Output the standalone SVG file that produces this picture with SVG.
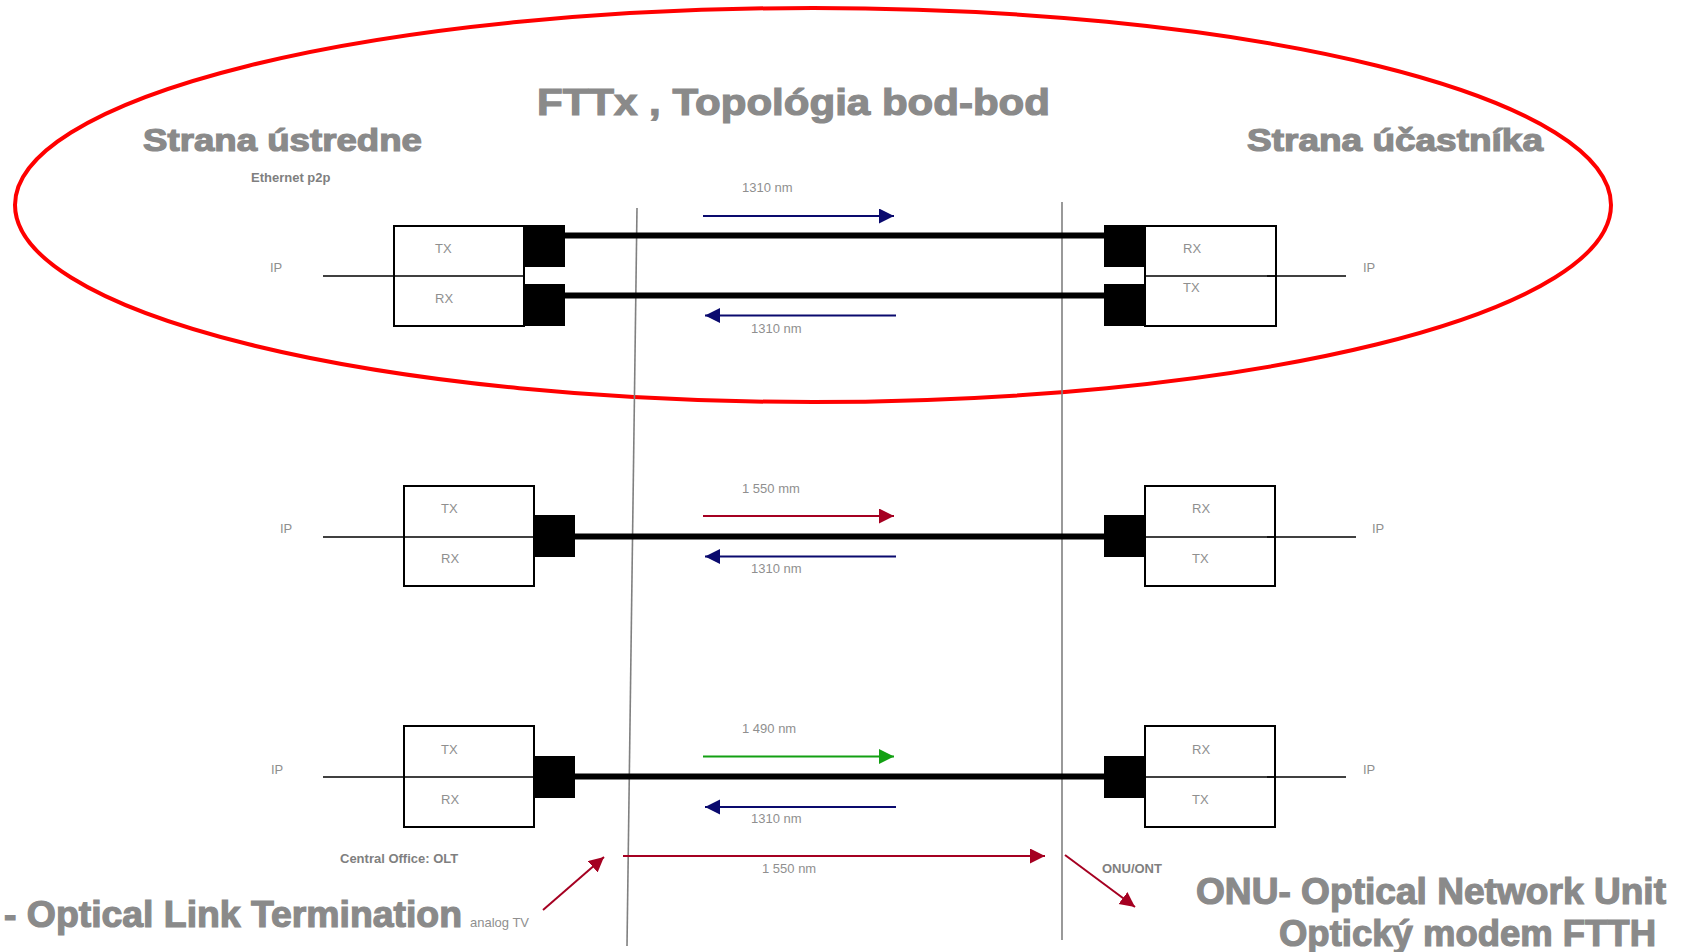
<svg xmlns="http://www.w3.org/2000/svg" width="1685" height="952" viewBox="0 0 1685 952">
<defs>
<style>
.big{font-family:"Liberation Sans",Arial,sans-serif;font-weight:bold;fill:#8a8a8a;stroke:#8a8a8a;stroke-width:1.2}
.lbl{font-family:"Liberation Sans",Arial,sans-serif;font-size:13px;fill:#8f8f8f}
.blbl{font-family:"Liberation Sans",Arial,sans-serif;font-size:13px;font-weight:bold;fill:#7f7f7f}
.box{fill:#fff;stroke:#000;stroke-width:2}
.div{stroke:#000;stroke-width:1.5}
.ipl{stroke:#000;stroke-width:1.3}
.plug{fill:#000}
.fiber{stroke:#000;stroke-width:6}
.vline{stroke:#808080;stroke-width:1.6;fill:none}
.navy{stroke:#0a0a6e;stroke-width:2}
.red{stroke:#a50021;stroke-width:2}
.green{stroke:#13a013;stroke-width:2}
</style>
<marker id="ahNavy" markerUnits="userSpaceOnUse" markerWidth="16" markerHeight="16" refX="15" refY="7.5" orient="auto"><path d="M0,0 L15,7.5 L0,15 z" fill="#0a0a6e"/></marker>
<marker id="ahRed" markerUnits="userSpaceOnUse" markerWidth="16" markerHeight="16" refX="15" refY="7.5" orient="auto"><path d="M0,0 L15,7.5 L0,15 z" fill="#a50021"/></marker>
<marker id="ahGreen" markerUnits="userSpaceOnUse" markerWidth="16" markerHeight="16" refX="15" refY="7.5" orient="auto"><path d="M0,0 L15,7.5 L0,15 z" fill="#13a013"/></marker>
</defs>
<rect width="1685" height="952" fill="#fff"/>

<g id="ellipse-p2p">
<ellipse cx="813" cy="205" rx="798" ry="197" fill="none" stroke="#ff0000" stroke-width="4"/>
</g>

<g id="titles">
<text class="big" x="537" y="115" font-size="37" textLength="513" lengthAdjust="spacingAndGlyphs">FTTx , Topológia bod-bod</text>
<text class="big" x="143" y="151" font-size="31" textLength="279" lengthAdjust="spacingAndGlyphs">Strana ústredne</text>
<text class="big" x="1247" y="151" font-size="31" textLength="296" lengthAdjust="spacingAndGlyphs">Strana účastníka</text>
<text class="blbl" x="251" y="182">Ethernet p2p</text>
</g>

<g id="dividers">
<line class="vline" x1="637" y1="208" x2="627" y2="946"/>
<line class="vline" x1="1062" y1="202" x2="1062" y2="940"/>
</g>

<!-- Row 1 -->
<g id="olt-1">
<line class="ipl" x1="323" y1="276" x2="394" y2="276"/>
<text class="lbl" x="270" y="272">IP</text>
<rect class="box" x="394" y="226" width="130" height="100"/>
<line class="div" x1="394" y1="276" x2="524" y2="276"/>
<text class="lbl" x="435" y="253">TX</text>
<text class="lbl" x="435" y="303">RX</text>
<rect class="plug" x="524" y="225" width="41" height="42"/>
<rect class="plug" x="524" y="284" width="41" height="42"/>
</g>
<g id="onu-1">
<rect class="box" x="1145" y="226" width="131" height="100"/>
<line class="div" x1="1145" y1="276" x2="1276" y2="276"/>
<line class="ipl" x1="1267" y1="276" x2="1346" y2="276"/>
<text class="lbl" x="1363" y="272">IP</text>
<text class="lbl" x="1183" y="253">RX</text>
<text class="lbl" x="1183" y="292">TX</text>
<rect class="plug" x="1104" y="225" width="41" height="42"/>
<rect class="plug" x="1104" y="284" width="41" height="42"/>
</g>

<!-- Row 2 -->
<g id="olt-2">
<line class="ipl" x1="323" y1="537" x2="404" y2="537"/>
<text class="lbl" x="280" y="533">IP</text>
<rect class="box" x="404" y="486" width="130" height="100"/>
<line class="div" x1="404" y1="537" x2="534" y2="537"/>
<text class="lbl" x="441" y="513">TX</text>
<text class="lbl" x="441" y="563">RX</text>
<rect class="plug" x="534" y="515" width="41" height="42"/>
</g>
<g id="onu-2">
<rect class="box" x="1145" y="486" width="130" height="100"/>
<line class="div" x1="1145" y1="537" x2="1275" y2="537"/>
<line class="ipl" x1="1267" y1="537" x2="1356" y2="537"/>
<text class="lbl" x="1372" y="533">IP</text>
<text class="lbl" x="1192" y="513">RX</text>
<text class="lbl" x="1192" y="563">TX</text>
<rect class="plug" x="1104" y="515" width="41" height="42"/>
</g>

<!-- Row 3 -->
<g id="olt-3">
<line class="ipl" x1="323" y1="777" x2="404" y2="777"/>
<text class="lbl" x="271" y="774">IP</text>
<rect class="box" x="404" y="726" width="130" height="101"/>
<line class="div" x1="404" y1="777" x2="534" y2="777"/>
<text class="lbl" x="441" y="754">TX</text>
<text class="lbl" x="441" y="804">RX</text>
<rect class="plug" x="534" y="756" width="41" height="42"/>
<text class="blbl" x="340" y="863">Central Office: OLT</text>
</g>
<g id="onu-3">
<rect class="box" x="1145" y="726" width="130" height="101"/>
<line class="div" x1="1145" y1="777" x2="1275" y2="777"/>
<line class="ipl" x1="1267" y1="777" x2="1346" y2="777"/>
<text class="lbl" x="1363" y="774">IP</text>
<text class="lbl" x="1192" y="754">RX</text>
<text class="lbl" x="1192" y="804">TX</text>
<rect class="plug" x="1104" y="756" width="41" height="42"/>
<text class="blbl" x="1102" y="873">ONU/ONT</text>
</g>

<g id="bottom-labels">
<text class="big" x="4" y="927" font-size="36" textLength="458" lengthAdjust="spacingAndGlyphs">- Optical Link Termination</text>
<text class="lbl" x="470" y="927">analog TV</text>
<text class="big" x="1196" y="904" font-size="36" textLength="470" lengthAdjust="spacingAndGlyphs">ONU- Optical Network Unit</text>
<text class="big" x="1279" y="946" font-size="36" textLength="377" lengthAdjust="spacingAndGlyphs">Optický modem FTTH</text>
</g>

<g id="connectors">
<line class="fiber" x1="565" y1="235.5" x2="1104" y2="235.5"/>
<line class="fiber" x1="565" y1="295.5" x2="1104" y2="295.5"/>
<line class="fiber" x1="575" y1="536.5" x2="1104" y2="536.5"/>
<line class="fiber" x1="575" y1="776.5" x2="1104" y2="776.5"/>

<line class="navy" x1="703" y1="216" x2="894" y2="216" marker-end="url(#ahNavy)"/>
<line class="navy" x1="896" y1="315.5" x2="705" y2="315.5" marker-end="url(#ahNavy)"/>
<text class="lbl" x="742" y="192">1310 nm</text>
<text class="lbl" x="751" y="333">1310 nm</text>

<line class="red" x1="703" y1="516" x2="894" y2="516" marker-end="url(#ahRed)"/>
<line class="navy" x1="896" y1="556.5" x2="705" y2="556.5" marker-end="url(#ahNavy)"/>
<text class="lbl" x="742" y="493">1 550 mm</text>
<text class="lbl" x="751" y="573">1310 nm</text>

<line class="green" x1="703" y1="756.5" x2="894" y2="756.5" marker-end="url(#ahGreen)"/>
<line class="navy" x1="896" y1="807" x2="705" y2="807" marker-end="url(#ahNavy)"/>
<text class="lbl" x="742" y="733">1 490 nm</text>
<text class="lbl" x="751" y="823">1310 nm</text>

<line class="red" x1="623" y1="856" x2="1045" y2="856" marker-end="url(#ahRed)"/>
<text class="lbl" x="762" y="873">1 550 nm</text>
<line class="red" x1="543" y1="910" x2="604" y2="857" marker-end="url(#ahRed)"/>
<line class="red" x1="1065" y1="855" x2="1135" y2="907" marker-end="url(#ahRed)"/>
</g>
</svg>
